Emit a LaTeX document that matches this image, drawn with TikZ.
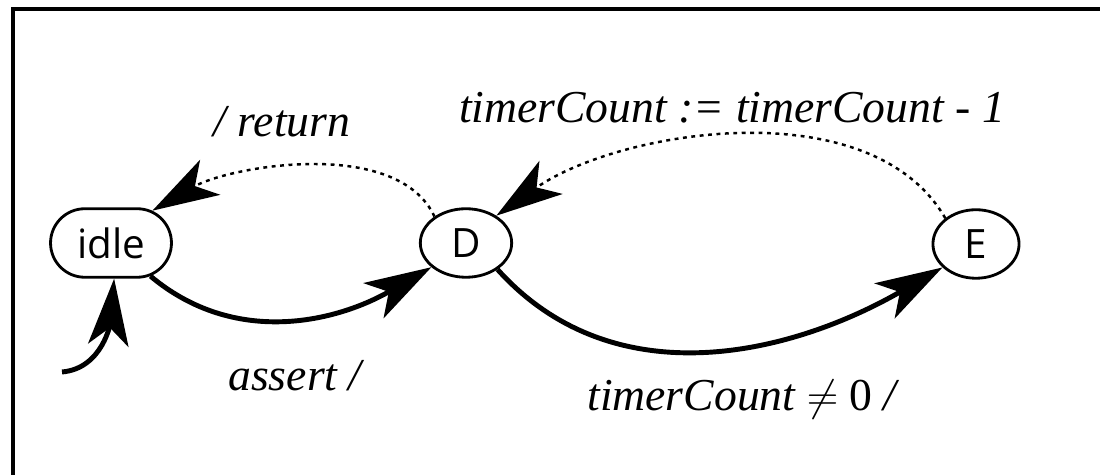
\documentclass[tikz,border=0pt]{standalone}
\usepackage{fontspec}
\setmainfont{Liberation Serif}
\newfontfamily\statefont{Open Sans}
\usetikzlibrary{arrows.meta,shapes.misc,shapes.geometric}

\tikzset{
  big tip/.tip={Stealth[length=38pt,width=23pt,inset=10pt]},
  state/.style={draw,ellipse,line width=1.6pt,minimum width=52pt,minimum height=39pt,font=\statefont\fontsize{23}{26}\selectfont},
  trans/.style={-big tip,line width=2.8pt},
  back/.style={-big tip,line width=1.4pt,dash pattern=on 2.2pt off 2.6pt},
  lab/.style={font=\itshape\fontsize{26}{30}\selectfont}
}

\begin{document}
\begin{tikzpicture}[x=0.02cm,y=-0.02cm]
\useasboundingbox (0,0) rectangle (1100,475);
\draw[line width=2.2pt] (13,480) -- (13,9) -- (1105,9);
\node[draw,rounded rectangle,line width=1.6pt,minimum width=75.5pt,minimum height=39pt,font=\statefont\fontsize{23}{26}\selectfont] (idle) at (111,243) {idle};
\node[state,minimum width=52pt] (d) at (466,243) {D};
\node[state,minimum width=49pt] (e) at (976,244) {E};
\coordinate (init) at (62,372);
\draw[trans] (init) to[out=5,in=-95] (idle.-85);
\draw[trans] (idle.-40) to[out=-40,in=210] (d.215);
\draw[trans] (d.-40) to[out=-48,in=210] (e.215);
\draw[back] (d.140) to[out=115,in=30,looseness=0.8] (idle.38);
\draw[back] (e.140) to[out=120,in=35,looseness=0.85] (d.42);
\node[lab] (lret) at (282,122) {/ return};
\node[lab] (ldec) at (732,108) {timerCount := timerCount - 1};
\node[lab] (lass) at (295,376) {assert /};
\node[lab] (lnz) at (742,400) {timerCount $\neq$ \textup{0} /};
\end{tikzpicture}
\end{document}
